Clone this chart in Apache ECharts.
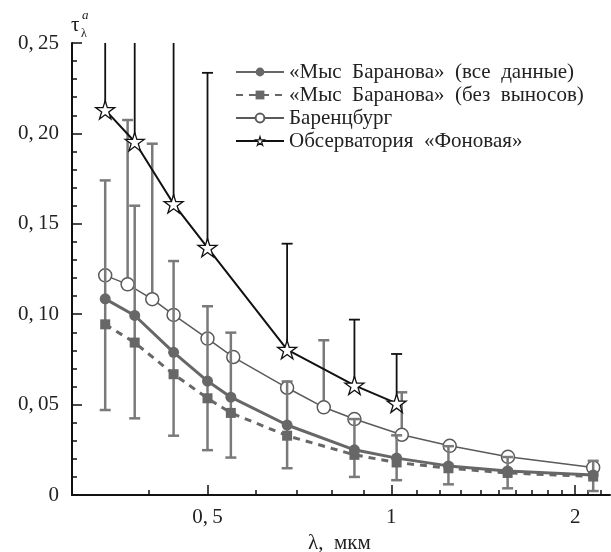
<!DOCTYPE html>
<html>
<head>
<meta charset="utf-8">
<title>tau</title>
<script src="https://cdn.jsdelivr.net/npm/echarts@6/dist/echarts.min.js"></script>
<style>
    html, body { margin: 0; padding: 0; background: #fff; }
    #chart { width: 611px; height: 552px; }
</style>
</head>
<body>
<div id="chart"></div>
<script>
// длины волн и значения
var lamBaranova = [0.340, 0.380, 0.440, 0.500, 0.546, 0.675, 0.870, 1.020, 1.240, 1.550, 2.140];
var tauBaranovaAll = [0.1085, 0.0993, 0.0789, 0.0630, 0.0541, 0.0387, 0.0250, 0.0204, 0.0161, 0.0133, 0.0111];
var tauBaranovaClean = [0.0944, 0.0843, 0.0668, 0.0535, 0.0454, 0.0328, 0.0222, 0.0180, 0.0148, 0.0122, 0.0102];
var lowBaranova = [0.0470, 0.0424, 0.0328, 0.0248, 0.0207, 0.0148, 0.0100, 0.0082, 0.0059, 0.0037, 0.0022];
var highBaranova = [0.1740, 0.1600, 0.1294, 0.1044, 0.0898, 0.0628, 0.0420, 0.0330, 0.0270, 0.0210, 0.0189];

var lamBarentsburg = [0.340, 0.370, 0.406, 0.440, 0.500, 0.551, 0.675, 0.775, 0.870, 1.040, 1.246, 1.552, 2.140];
var tauBarentsburg = [0.1215, 0.1165, 0.1083, 0.0996, 0.0865, 0.0763, 0.0593, 0.0485, 0.0420, 0.0333, 0.0272, 0.0211, 0.0152];
var highBarentsburg = [null, 0.2074, 0.1943, null, null, null, null, 0.0856, null, 0.0568, null, null, null];

var lamFonovaya = [0.340, 0.380, 0.440, 0.500, 0.675, 0.870, 1.020];
var tauFonovaya = [0.2130, 0.1954, 0.1610, 0.1368, 0.0804, 0.0606, 0.0507];
var highFonovaya = [0.300, 0.290, 0.360, 0.2335, 0.1390, 0.0970, 0.0780];

var xMajorTicks = [0.5, 1, 2];
var xMinorTicks = [0.4, 0.6, 0.7, 0.8, 0.9, 1.1, 1.2, 1.3, 1.4, 1.5, 1.6, 1.7, 1.8, 1.9, 2.1, 2.2];

var names = ['«Мыс Баранова» (все данные)', '«Мыс Баранова» (без выносов)', 'Баренцбург', 'Обсерватория «Фоновая»'];

var FONT = 'Liberation Serif';
var GRAY = '#676767';
var STAR = 'path://M50,2 L61,37 L98,37 L68,59 L79,95 L50,73 L21,95 L32,59 L2,37 L39,37 Z';
var Y_MAX = 0.25;

// склеиваем массивы в точки
function zip(xs, ys) {
    var out = [];
    xs.forEach(function (x, i) {
        out.push([x, ys[i]]);
    });
    return out;
}

// отрезки погрешностей [x, низ, верх]
function bars(xs, lows, highs) {
    var out = [];
    xs.forEach(function (x, i) {
        if (highs[i] == null) return;
        out.push([x, lows[i], highs[i]]);
    });
    return out;
}

// верхние погрешности рисуются от самой точки (4-е поле = сама точка, без нижней засечки)
function upOnly(xs, ys, highs) {
    var out = [];
    xs.forEach(function (x, i) {
        if (highs[i] == null) return;
        out.push([x, ys[i], highs[i], ys[i]]);
    });
    return out;
}

function errorRender(color, width) {
    return function (params, api) {
        var x = api.value(0);
        var lo = api.coord([x, api.value(1)]);
        var hi = api.coord([x, api.value(2)]);
        var top = api.coord([x, Y_MAX]);
        var cut = hi[1] < top[1];  // уходит за верх оси - без засечки
        if (cut) hi[1] = top[1];
        var st = { stroke: color, lineWidth: width };
        var kids = [{ type: 'line', shape: { x1: lo[0], y1: lo[1], x2: hi[0], y2: hi[1] }, style: st }];
        if (!cut) {
            kids.push({ type: 'line', shape: { x1: hi[0] - 5.5, y1: hi[1], x2: hi[0] + 5.5, y2: hi[1] }, style: st });
        }
        if (api.value(1) !== api.value(3)) {
            kids.push({ type: 'line', shape: { x1: lo[0] - 5.5, y1: lo[1], x2: lo[0] + 5.5, y2: lo[1] }, style: st });
        }
        return { type: 'group', children: kids };
    };
}

// запятая с узким пробелом, как в оригинале
function decimal(s) {
    return s.replace('.', ',\u2009');
}

var chart = echarts.init(document.getElementById('chart'));

var option = {
    animation: false,
    backgroundColor: '#fff',
    textStyle: { fontFamily: FONT },
    grid: { left: 72, right: 1, top: 43, bottom: 57, outerBoundsMode: 'none' },
    legend: {
        data: [
            { name: names[0] },
            { name: names[1] },
            { name: names[2] },
            { name: names[3], itemStyle: { color: '#fff', borderColor: '#111', borderWidth: 1.2 } }
        ],
        orient: 'vertical',
        left: 230,
        top: 56,
        itemWidth: 48,
        itemHeight: 11,
        itemGap: 1,
        formatter: function (n) { return n.replace(/ /g, '\u2002'); },
        textStyle: { fontFamily: FONT, fontSize: 21, lineHeight: 22, color: '#222' }
    },
    // подписи осей
    graphic: [
        { type: 'text', left: 71, top: 15, style: { text: 'τ', font: '21px ' + FONT, fill: '#222' } },
        { type: 'text', left: 82, top: 9, style: { text: 'a', font: 'italic 13px ' + FONT, fill: '#222' } },
        { type: 'text', left: 81, top: 28, style: { text: 'λ', font: '12px ' + FONT, fill: '#222' } },
        { type: 'text', left: 308, top: 533, style: { text: 'λ,  мкм', font: '21px ' + FONT, fill: '#222' } }
    ],
    xAxis: [
        {
            type: 'log',
            min: 0.3,
            max: 2.28,
            axisLine: { show: true, onZero: false, lineStyle: { color: '#111', width: 2 } },
            axisTick: { show: true, inside: true, length: 10, customValues: xMajorTicks, lineStyle: { color: '#111', width: 1.5 } },
            axisLabel: {
                customValues: xMajorTicks,
                margin: 12,
                fontFamily: FONT,
                fontSize: 21,
                color: '#222',
                formatter: function (v) { return decimal(String(v)); }
            },
            splitLine: { show: false },
            minorTick: { show: false }
        },
        {
            type: 'log',
            min: 0.3,
            max: 2.28,
            position: 'bottom',
            axisLine: { show: false, onZero: false },
            axisTick: { show: true, inside: true, length: 5, customValues: xMinorTicks, lineStyle: { color: '#111', width: 1.5 } },
            axisLabel: { show: false },
            splitLine: { show: false }
        }
    ],
    yAxis: {
        type: 'value',
        min: 0,
        max: Y_MAX,
        interval: 0.05,
        axisLine: { show: true, lineStyle: { color: '#111', width: 2 } },
        axisTick: { show: true, inside: true, length: 10, lineStyle: { color: '#111', width: 1.5 } },
        minorTick: { show: true, splitNumber: 5, length: 5, lineStyle: { color: '#111', width: 1.5 } },
        axisLabel: {
            margin: 13,
            fontFamily: FONT,
            fontSize: 21,
            color: '#222',
            formatter: function (v) { return v === 0 ? '0' : decimal(v.toFixed(2)); }
        },
        splitLine: { show: false }
    },
    series: [
        // Баренцбург - погрешности вверх
        {
            type: 'custom',
            name: 'err-barents',
            z: 1,
            renderItem: errorRender('#7a7a7a', 2.5),
            encode: { x: 0, y: [1, 2] },
            data: upOnly(lamBarentsburg, tauBarentsburg, highBarentsburg)
        },
        {
            type: 'line',
            name: names[2],
            z: 2,
            data: zip(lamBarentsburg, tauBarentsburg),
            symbol: 'circle',
            symbolSize: 13,
            itemStyle: { color: '#fff', borderColor: '#5a5a5a', borderWidth: 1.5 },
            lineStyle: { color: '#5a5a5a', width: 1.5 }
        },
        // Мыс Баранова - погрешности
        {
            type: 'custom',
            name: 'err-baranova',
            z: 3,
            renderItem: errorRender('#7a7a7a', 2.5),
            encode: { x: 0, y: [1, 2] },
            data: bars(lamBaranova, lowBaranova, highBaranova)
        },
        {
            type: 'line',
            name: names[1],
            z: 4,
            data: zip(lamBaranova, tauBaranovaClean),
            symbol: 'rect',
            symbolSize: 10,
            itemStyle: { color: GRAY },
            lineStyle: { color: GRAY, width: 3, type: [7, 6] }
        },
        {
            type: 'line',
            name: names[0],
            z: 5,
            data: zip(lamBaranova, tauBaranovaAll),
            symbol: 'circle',
            symbolSize: 11,
            itemStyle: { color: GRAY },
            lineStyle: { color: GRAY, width: 3 }
        },
        // Фоновая - погрешности вверх
        {
            type: 'custom',
            name: 'err-fon',
            z: 6,
            renderItem: errorRender('#111', 1.8),
            encode: { x: 0, y: [1, 2] },
            data: upOnly(lamFonovaya, tauFonovaya, highFonovaya)
        },
        {
            type: 'line',
            name: names[3],
            z: 7,
            data: zip(lamFonovaya, tauFonovaya),
            symbol: STAR,
            symbolSize: 19,
            symbolKeepAspect: true,
            itemStyle: { color: '#fff', borderColor: '#111', borderWidth: 1.3 },
            lineStyle: { color: '#111', width: 2 }
        }
    ]
};

chart.setOption(option);
</script>
</body>
</html>
